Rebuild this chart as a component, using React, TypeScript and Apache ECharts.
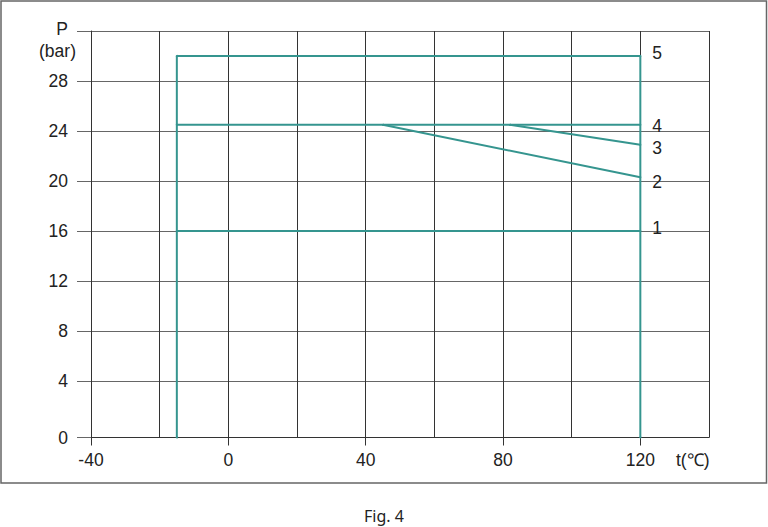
import React, { useEffect, useRef } from "react";
import * as echarts from "echarts";

// Temperature (°C) / pressure (bar) data for each numbered curve
const LINE1_T = [-15, 120];
const LINE1_P = [16, 16];
const LINE2_T = [45, 120];
const LINE2_P = [24.5, 20.3];
const LINE3_T = [82, 120];
const LINE3_P = [24.5, 22.9];
const LINE4_T = [-15, 120];
const LINE4_P = [24.5, 24.5];
const LINE5_T = [-15, -15, 120, 120];
const LINE5_P = [0, 30, 30, 0];

const CURVE_NAMES = ["1", "2", "3", "4", "5"];

// Axis ticks
const X_TICKS = [-40, 0, 40, 80, 120];
const Y_TICKS = [0, 4, 8, 12, 16, 20, 24, 28, 32];
const Y_TICK_LABELS = ["0", "4", "8", "12", "16", "20", "24", "28", ""];

// the printed figure places its "0" baseline slightly below the linear scale
const Y_AXIS_MIN = -0.5;
const Y_AXIS_MAX = 32;

const TEAL = "#35958f";
const TEXT = "#222";
const FONT = "Liberation Sans, Arial, sans-serif";

function App() {
  const ref = useRef<HTMLDivElement>(null);

  useEffect(() => {
    document.body.style.margin = "0";
    if (!ref.current) return;
    const chart = echarts.init(ref.current, null, { renderer: "svg" });

    const toY = (p: number) => (p === 0 ? Y_AXIS_MIN : p);
    const yTickVals = Y_TICKS.map(toY);

    const labelShift: Record<string, number> = {
      "1": -3,
      "2": 5,
      "3": 3,
      "4": 1,
      "5": -3,
    };

    const build = (ts: number[], ps: number[], name: string, labelIdx: number) =>
      ts.map((t, i) => {
        const item: any = { value: [t, toY(ps[i])] };
        if (i === labelIdx) {
          item.label = {
            show: true,
            formatter: name,
            position: [13, 1 + labelShift[name]],
            align: "left",
            verticalAlign: "middle",
            color: TEXT,
            fontSize: 17.5,
            fontFamily: FONT,
          };
        }
        return item;
      });

    const curves = [
      build(LINE1_T, LINE1_P, CURVE_NAMES[0], 1),
      build(LINE2_T, LINE2_P, CURVE_NAMES[1], 1),
      build(LINE3_T, LINE3_P, CURVE_NAMES[2], 1),
      build(LINE4_T, LINE4_P, CURVE_NAMES[3], 1),
      build(LINE5_T, LINE5_P, CURVE_NAMES[4], 2),
    ];

    chart.setOption({
      animation: false,
      grid: { left: 91, right: 59, top: 31, bottom: 89.5, containLabel: false },
      xAxis: [
        {
          type: "value",
          min: -40,
          max: 140,
          interval: 20,
          position: "bottom",
          axisLine: { show: true, onZero: false, lineStyle: { color: "#333", width: 1 } },
          axisTick: {
            show: true,
            customValues: X_TICKS,
            length: 8,
            lineStyle: { color: "#333", width: 1 },
          },
          axisLabel: {
            customValues: X_TICKS,
            margin: 13,
            color: TEXT,
            fontSize: 17.5,
            fontFamily: FONT,
          },
          splitLine: { show: false },
        },
        {
          type: "value",
          min: -40,
          max: 140,
          interval: 20,
          position: "bottom",
          axisLine: { show: false, onZero: false },
          axisTick: { show: false },
          axisLabel: { show: false },
          splitLine: { show: true, lineStyle: { color: "#333", width: 1 } },
        },
      ],
      yAxis: {
        type: "value",
        min: Y_AXIS_MIN,
        max: Y_AXIS_MAX,
        axisLine: { show: true, onZero: false, lineStyle: { color: "#333", width: 1 } },
        axisTick: {
          show: true,
          customValues: yTickVals,
          length: 14,
          lineStyle: { color: "#666", width: 1 },
        },
        axisLabel: {
          customValues: yTickVals,
          margin: 23,
          color: TEXT,
          fontSize: 17.5,
          fontFamily: FONT,
          formatter: (v: number) => {
            const idx = yTickVals.findIndex((x) => Math.abs(x - v) < 1e-6);
            return idx >= 0 ? Y_TICK_LABELS[idx] : "";
          },
        },
        splitLine: { show: true, lineStyle: { color: "#666", width: 1 } },
      },
      series: curves.map((data, i) => ({
        type: "line",
        name: CURVE_NAMES[i],
        xAxisIndex: 0,
        data,
        showSymbol: true,
        symbol: "circle",
        symbolSize: 2,
        itemStyle: { color: TEAL },
        silent: true,
        z: 3,
        lineStyle: { color: TEAL, width: 2 },
        labelLayout: { hideOverlap: false },
      })),
      graphic: [
        {
          type: "rect",
          shape: { x: 1, y: 1, width: 765.5, height: 482 },
          style: { fill: "none", stroke: "#666", lineWidth: 1.5 },
          silent: true,
          z: -1,
        },
        {
          type: "text",
          x: 68,
          y: 29,
          style: {
            text: "P",
            fill: TEXT,
            fontSize: 17.5,
            fontFamily: FONT,
            align: "right",
            verticalAlign: "middle",
          },
        },
        {
          type: "text",
          x: 76,
          y: 51,
          style: {
            text: "(bar)",
            fill: TEXT,
            fontSize: 17.5,
            fontFamily: FONT,
            align: "right",
            verticalAlign: "middle",
          },
        },
        {
          type: "text",
          x: 676,
          y: 460,
          style: {
            text: "t(℃)",
            fill: TEXT,
            fontSize: 17.5,
            fontFamily: FONT,
            align: "left",
            verticalAlign: "middle",
          },
        },
        {
          type: "text",
          x: 384,
          y: 516,
          style: {
            text: "Fig. 4",
            fill: TEXT,
            fontSize: 16,
            fontFamily: "Noto Sans, sans-serif",
            align: "center",
            verticalAlign: "middle",
          },
        },
      ],
    });

    return () => chart.dispose();
  }, []);

  return <div ref={ref} style={{ width: 768, height: 527 }} />;
}

export default App;
